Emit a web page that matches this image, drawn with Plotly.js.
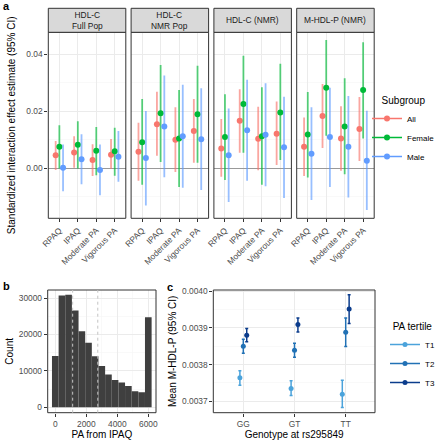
<!DOCTYPE html>
<html><head><meta charset="utf-8">
<script src="https://cdn.plot.ly/plotly-3.0.1.min.js"></script>
<style>html,body{margin:0;padding:0;background:#fff}#chart{width:440px;height:440px}</style>
</head><body><div id="chart"></div>
<script>
// ---------- Panel a data ----------
const facets = ['HDL-C<br>Full Pop', 'HDL-C<br>NMR Pop', 'HDL-C (NMR)', 'M-HDL-P (NMR)'];
const paMeasures = ['RPAQ', 'IPAQ', 'Moderate PA', 'Vigorous PA'];
const subgroups = ['All', 'Female', 'Male'];
// [facet][measure]
const allEst = [[0.0046,0.0056,0.0029,0.0048],[0.0058,0.0155,0.0100,0.0131],[0.0070,0.0167,0.0104,0.0121],[0.0076,0.0184,0.0105,0.0138]];
const allLo  = [[-0.0006,0.0002,-0.0027,-0.0001],[-0.0043,0.0044,-0.0013,0.0020],[-0.0029,0.0055,-0.0007,0.0012],[-0.0027,0.0071,-0.0008,0.0026]];
const allHi  = [[0.0096,0.0113,0.0085,0.0103],[0.0160,0.0269,0.0214,0.0243],[0.0173,0.0277,0.0216,0.0234],[0.0178,0.0296,0.0218,0.0250]];
const femEst = [[0.0076,0.0083,0.0062,0.0060],[0.0092,0.0193,0.0105,0.0190],[0.0110,0.0226,0.0113,0.0196],[0.0119,0.0283,0.0147,0.0275]];
const femLo  = [[0.0000,0.0000,-0.0024,-0.0026],[-0.0057,0.0022,-0.0065,0.0020],[-0.0041,0.0055,-0.0057,0.0029],[-0.0032,0.0114,-0.0021,0.0105]];
const femHi  = [[0.0151,0.0165,0.0145,0.0142],[0.0243,0.0362,0.0275,0.0360],[0.0260,0.0395,0.0284,0.0367],[0.0268,0.0450,0.0316,0.0442]];
const malEst = [[0.0002,0.0032,-0.0006,0.0041],[0.0036,0.0147,0.0113,0.0102],[0.0046,0.0134,0.0118,0.0074],[0.0051,0.0110,0.0076,0.0027]];
const malLo  = [[-0.0080,-0.0056,-0.0094,-0.0047],[-0.0130,-0.0031,-0.0068,-0.0076],[-0.0118,-0.0043,-0.0063,-0.0104],[-0.0111,-0.0065,-0.0102,-0.0146]];
const malHi  = [[0.0084,0.0120,0.0084,0.0131],[0.0201,0.0326,0.0293,0.0281],[0.0210,0.0311,0.0298,0.0251],[0.0214,0.0283,0.0254,0.0202]];

// ---------- Panel b data ----------
const binWidth = 6000 / 14;
const binCenters = [0, 1, 2, 3, 4, 5, 6, 7, 8, 9, 10, 11, 12, 13, 14].map(i => i * binWidth);
const binCounts = [14100, 30700, 30900, 26600, 20900, 17700, 14000, 11300, 9000, 7500, 6800, 5800, 4400, 4100, 24700];
const tertileCuts = [1120, 2740];

// ---------- Panel c data ----------
const genotypes = ['GG', 'GT', 'TT'];
const tertiles = ['T1', 'T2', 'T3'];
const t1Mean = [0.003764, 0.003735, 0.003719];
const t1Lo   = [0.003744, 0.003716, 0.003683];
const t1Hi   = [0.003783, 0.003756, 0.003757];
const t2Mean = [0.003850, 0.003839, 0.003888];
const t2Lo   = [0.003831, 0.003820, 0.003849];
const t2Hi   = [0.003869, 0.003858, 0.003927];
const t3Mean = [0.003880, 0.003909, 0.003951];
const t3Lo   = [0.003862, 0.003889, 0.003912];
const t3Hi   = [0.003898, 0.003927, 0.003990];

// ---------- styling ----------
const FONT = 'Liberation Sans, Arial, sans-serif';
const subColors = ['#F8766D', '#00BA38', '#619CFF'];
const subCI = ['rgba(248,118,109,0.65)', 'rgba(0,186,56,0.65)', 'rgba(97,156,255,0.65)'];
const tertColors = ['#4BA3DB', '#2171B5', '#0B3C8C'];
const px = x => x / 440;
const py = y => 1 - y / 440;
const gaps = arr => { const o = []; arr.forEach((v, i) => { if (i) o.push(null); o.push(v); }); return o; };

const traces = [];
const subData = [[allEst, allLo, allHi], [femEst, femLo, femHi], [malEst, malLo, malHi]];
const dodgeA = [-0.2, 0, 0.2];
for (let f = 0; f < 4; f++) {
  const xa = f === 0 ? 'x' : 'x' + (f + 1);
  subgroups.forEach((s, k) => {
    const [E, L, H] = subData[k];
    traces.push({
      type: 'scatter', mode: 'lines+markers', xaxis: xa, yaxis: 'y',
      name: s, legendgroup: s, showlegend: f === 0, legend: 'legend',
      x: gaps(paMeasures.map((_, i) => i + dodgeA[k])),
      y: gaps(E[f]),
      line: {color: subColors[k], width: 1.5},
      marker: {color: subColors[k], size: 6},
      error_y: {type: 'data', symmetric: false,
        array: gaps(H[f].map((h, i) => h - E[f][i])),
        arrayminus: gaps(L[f].map((l, i) => E[f][i] - l)),
        width: 0, thickness: 1.8, color: subCI[k]},
      hoverinfo: 'skip'
    });
  });
}

traces.push({
  type: 'bar', xaxis: 'x5', yaxis: 'y5', x: binCenters, y: binCounts, width: binWidth,
  marker: {color: '#3F3F3F', line: {width: 0}}, showlegend: false, hoverinfo: 'skip'
});

const tData = [[t1Mean, t1Lo, t1Hi], [t2Mean, t2Lo, t2Hi], [t3Mean, t3Lo, t3Hi]];
const dodgeC = [-0.0667, 0, 0.0667];
tertiles.forEach((t, k) => {
  const [M, L, H] = tData[k];
  traces.push({
    type: 'scatter', mode: 'lines+markers', xaxis: 'x6', yaxis: 'y6',
    name: t, legend: 'legend2',
    x: gaps(genotypes.map((_, i) => i + dodgeC[k])),
    y: gaps(M),
    line: {color: tertColors[k], width: 1.5},
    marker: {color: tertColors[k], size: 5},
    error_y: {type: 'data', symmetric: false,
      array: gaps(H.map((h, i) => h - M[i])),
      arrayminus: gaps(L.map((l, i) => M[i] - l)),
      width: 1.5, thickness: 1.5, color: tertColors[k]},
    hoverinfo: 'skip'
  });
});

const tickFont = {family: FONT, size: 8.4, color: '#4D4D4D'};
const titleFont = {family: FONT, size: 10, color: '#000'};
const gridC = '#EBEBEB', minorC = '#F5F5F5';

const panelXDomains = [[48.3, 125.8], [131.1, 208.6], [213.9, 291.4], [296.7, 374.2]];
const layout = {
  width: 440, height: 440, margin: {l: 0, r: 0, t: 0, b: 0, autoexpand: false},
  paper_bgcolor: '#fff', plot_bgcolor: '#fff',
  font: {family: FONT, color: '#000'},
  showlegend: true,
  shapes: [], annotations: []
};
panelXDomains.forEach((d, f) => {
  const key = f === 0 ? 'xaxis' : 'xaxis' + (f + 1);
  layout[key] = {
    domain: [px(d[0]), px(d[1])], anchor: 'y', range: [-0.6, 3.6],
    tickmode: 'array', tickvals: paMeasures.map((_, i) => i), ticktext: paMeasures,
    tickangle: -45, tickfont: tickFont, ticks: 'outside', ticklen: 3, tickcolor: '#333',
    showgrid: true, gridcolor: gridC, gridwidth: 1, zeroline: false, showline: false, fixedrange: true
  };
  const xr = f === 0 ? 'x domain' : 'x' + (f + 1) + ' domain';
  layout.shapes.push({type: 'rect', xref: xr, yref: 'y domain', x0: 0, x1: 1, y0: 0, y1: 1,
    line: {color: '#333', width: 1}, layer: 'above'});
  layout.shapes.push({type: 'rect', xref: xr, yref: 'paper', x0: 0, x1: 1, y0: py(32.3), y1: py(8.3),
    fillcolor: '#D9D9D9', line: {color: '#333', width: 1}, layer: 'above'});
  layout.annotations.push({text: facets[f], xref: xr, yref: 'paper', x: 0.5, y: py(20.3),
    showarrow: false, font: {family: FONT, size: 8.4, color: '#1A1A1A'}, xanchor: 'center', yanchor: 'middle'});
});
layout.yaxis = {
  domain: [py(218.3), py(32.3)], anchor: 'x', range: [-0.0175, 0.0477],
  tick0: 0, dtick: 0.02, tickformat: '.2f', tickfont: tickFont, ticks: 'outside', ticklen: 3, tickcolor: '#333',
  showgrid: true, gridcolor: gridC, minor: {dtick: 0.01, tick0: 0, showgrid: true, gridcolor: minorC, gridwidth: 0.6},
  zeroline: true, zerolinecolor: '#999999', zerolinewidth: 1,
  title: {text: 'Standardized interaction effect estimate (95% CI)', font: titleFont, standoff: 8}
};

// panel b
layout.xaxis5 = {
  domain: [px(47.7), px(156)], anchor: 'y5', range: [-490, 6497], tick0: 0, dtick: 2000, tickformat: 'd',
  tickfont: tickFont, ticks: 'outside', ticklen: 3, tickcolor: '#333',
  showgrid: true, gridcolor: gridC, minor: {dtick: 1000, tick0: 0, showgrid: true, gridcolor: minorC, gridwidth: 0.6},
  zeroline: false, title: {text: 'PA from IPAQ', font: titleFont, standoff: 3}
};
layout.yaxis5 = {
  domain: [py(412.7), py(290)], anchor: 'x5', range: [-1500, 32200], tick0: 0, dtick: 10000, tickformat: 'd',
  tickfont: tickFont, ticks: 'outside', ticklen: 3, tickcolor: '#333',
  showgrid: true, gridcolor: gridC, minor: {dtick: 5000, tick0: 0, showgrid: true, gridcolor: minorC, gridwidth: 0.6},
  zeroline: false, title: {text: 'Count', font: titleFont, standoff: 3}
};
layout.shapes.push({type: 'rect', xref: 'x5 domain', yref: 'y5 domain', x0: 0, x1: 1, y0: 0, y1: 1,
  line: {color: '#333', width: 1}, layer: 'above'});
tertileCuts.forEach(c => layout.shapes.push({type: 'line', xref: 'x5', yref: 'y5 domain', x0: c, x1: c, y0: 0, y1: 1,
  line: {color: '#C4C4C4', width: 1, dash: 'dot'}, layer: 'above'}));

// panel c
layout.xaxis6 = {
  domain: [px(213.3), px(375)], anchor: 'y6', range: [-0.586, 2.572],
  tickmode: 'array', tickvals: genotypes.map((_, i) => i), ticktext: genotypes,
  tickfont: tickFont, ticks: 'outside', ticklen: 3, tickcolor: '#333',
  showgrid: true, gridcolor: gridC, zeroline: false,
  title: {text: 'Genotype at rs295849', font: titleFont, standoff: 3}
};
layout.yaxis6 = {
  domain: [py(412.7), py(290)], anchor: 'x6', range: [0.003669, 0.004003], tick0: 0.0037, dtick: 0.0001, tickformat: '.4f',
  tickfont: tickFont, ticks: 'outside', ticklen: 3, tickcolor: '#333',
  showgrid: true, gridcolor: gridC, minor: {dtick: 0.00005, tick0: 0.0037, showgrid: true, gridcolor: minorC, gridwidth: 0.6},
  zeroline: false, title: {text: 'Mean M-HDL-P (95% CI)', font: titleFont, standoff: 3}
};
layout.shapes.push({type: 'rect', xref: 'x6 domain', yref: 'y6 domain', x0: 0, x1: 1, y0: 0, y1: 1,
  line: {color: '#333', width: 1}, layer: 'above'});

layout.legend = {
  title: {text: 'Subgroup', side: 'top center', font: {family: FONT, size: 10, color: '#000'}},
  font: {family: FONT, size: 8, color: '#000'}, x: 1, y: py(91), xanchor: 'right', yanchor: 'top',
  bgcolor: 'rgba(0,0,0,0)', tracegroupgap: 0
};
layout.legend2 = {
  title: {text: 'PA tertile', side: 'top center', font: {family: FONT, size: 10, color: '#000'}},
  font: {family: FONT, size: 8, color: '#000'}, x: 1, y: py(317), xanchor: 'right', yanchor: 'top',
  bgcolor: 'rgba(0,0,0,0)', tracegroupgap: 0
};

[['a', 6, 6], ['b', 6, 286], ['c', 170, 287]].forEach(([t, x, y]) => layout.annotations.push({
  text: '<b>' + t + '</b>', xref: 'paper', yref: 'paper', x: px(x), y: py(y), showarrow: false,
  xanchor: 'center', yanchor: 'middle', font: {family: FONT, size: 11, color: '#000'}
}));

Plotly.newPlot('chart', traces, layout, {staticPlot: true, displayModeBar: false});
</script></body></html>
